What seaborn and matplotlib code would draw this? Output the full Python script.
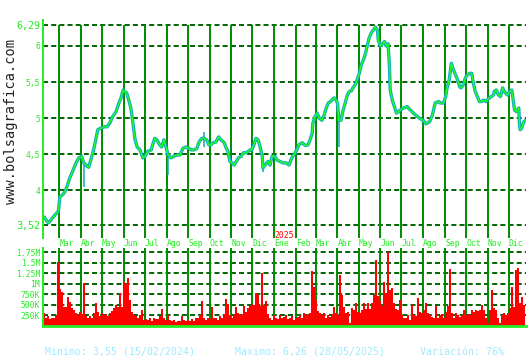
import numpy as np
import pandas as pd
import matplotlib
matplotlib.use("Agg")
import matplotlib.pyplot as plt
import matplotlib.transforms as mtransforms
import seaborn as sns

sns.set_theme(style="white")
plt.rcParams['font.family'] = ['DejaVu Sans Mono', 'DejaVu Sans']

# ---------------- data ----------------
start_date = "2024-02-08"
# days since start_date, closing price
price_day = [0, 1, 4, 7, 9, 11, 16, 20, 21, 23,
             27, 30, 33, 37, 41, 46, 50, 54, 57, 61,
             64, 67, 71, 74, 77, 81, 86, 90, 94, 98,
             103, 107, 110, 113, 115, 118, 121, 124, 127, 130,
             133, 137, 141, 144, 148, 153, 155, 158, 161, 165,
             168, 171, 174, 177, 181, 185, 190, 194, 198, 202,
             207, 210, 214, 218, 221, 225, 228, 232, 235, 238,
             241, 245, 249, 252, 257, 259, 262, 265, 268, 271,
             274, 277, 281, 284, 288, 291, 294, 296, 299, 302,
             305, 308, 311, 312, 315, 319, 322, 325, 329, 332,
             336, 341, 345, 349, 353, 358, 361, 363, 368, 371,
             373, 376, 379, 382, 383, 386, 389, 392, 396, 399,
             402, 405, 408, 410, 413, 416, 418, 420, 423, 426,
             429, 432, 435, 438, 440, 443, 446, 449, 452, 455,
             458, 460, 463, 466, 469, 472, 475, 476, 479, 482,
             485, 487, 490, 492, 493, 496, 499, 502, 505, 507,
             512, 517, 522, 526, 532, 536, 540, 544, 549, 553,
             557, 562, 564, 569, 572, 574, 577, 580, 583, 586,
             589, 592, 594, 597, 600, 603, 606, 609, 611, 614,
             617, 620, 623, 626, 629, 631, 634, 637, 640, 641,
             644, 647, 650, 653, 654, 657, 660, 663, 666, 668,
             670, 673, 676, 677, 678, 680, 683, 686]
price_close = [3.62, 3.63, 3.58, 3.55, 3.57, 3.60, 3.66, 3.70, 3.72, 3.91,
               3.94, 3.98, 4.05, 4.17, 4.26, 4.38, 4.45, 4.47, 4.38, 4.34,
               4.32, 4.42, 4.56, 4.70, 4.84, 4.86, 4.88, 4.88, 4.93, 5.02,
               5.09, 5.21, 5.28, 5.39, 5.37, 5.35, 5.25, 5.14, 4.93, 4.70,
               4.60, 4.56, 4.45, 4.47, 4.54, 4.56, 4.63, 4.72, 4.70, 4.63,
               4.60, 4.70, 4.60, 4.49, 4.45, 4.47, 4.49, 4.49, 4.58, 4.60,
               4.58, 4.56, 4.56, 4.58, 4.67, 4.72, 4.72, 4.70, 4.63, 4.63,
               4.66, 4.67, 4.74, 4.70, 4.66, 4.60, 4.54, 4.40, 4.38, 4.35,
               4.40, 4.45, 4.47, 4.52, 4.52, 4.54, 4.56, 4.56, 4.63, 4.72,
               4.70, 4.60, 4.47, 4.31, 4.35, 4.40, 4.35, 4.47, 4.47, 4.42,
               4.40, 4.38, 4.38, 4.35, 4.45, 4.52, 4.58, 4.63, 4.66, 4.63,
               4.62, 4.63, 4.70, 4.79, 4.93, 5.02, 5.07, 5.00, 4.97, 5.04,
               5.14, 5.21, 5.23, 5.25, 5.28, 5.25, 5.21, 4.97, 4.97, 5.11,
               5.21, 5.32, 5.37, 5.38, 5.42, 5.46, 5.53, 5.62, 5.74, 5.81,
               5.90, 5.99, 6.11, 6.18, 6.22, 6.26, 6.22, 6.08, 6.00, 6.03,
               6.06, 6.00, 6.03, 5.71, 5.39, 5.25, 5.16, 5.07, 5.09, 5.11,
               5.14, 5.16, 5.11, 5.07, 5.02, 4.99, 4.97, 4.92, 4.95, 5.04,
               5.21, 5.23, 5.21, 5.21, 5.30, 5.42, 5.53, 5.76, 5.67, 5.60,
               5.53, 5.43, 5.42, 5.46, 5.56, 5.60, 5.62, 5.62, 5.50, 5.37,
               5.30, 5.23, 5.23, 5.25, 5.23, 5.25, 5.28, 5.30, 5.32, 5.37,
               5.39, 5.32, 5.30, 5.42, 5.39, 5.35, 5.32, 5.37, 5.39, 5.25,
               5.11, 5.09, 5.14, 4.90, 4.84, 4.86, 4.95, 4.97]
# intraday spikes (day, low, high)
spike_day = [57, 177, 228, 312, 420]
spike_low = [4.05, 4.21, 4.60, 4.26, 4.60]
spike_high = [4.40, 4.50, 4.81, 4.47, 5.00]

# volume (thousands), evenly spaced from start to end
vol_end_date = "2025-12-23"
volume_k = [300, 200, 230, 170, 180, 200, 260, 1520, 870, 810,
            450, 460, 690, 575, 420, 380, 300, 260, 330, 280,
            1010, 230, 190, 230, 180, 300, 550, 340, 240, 300,
            250, 280, 230, 300, 350, 420, 500, 450, 780, 450,
            1050, 1000, 1130, 620, 340, 260, 230, 200, 260, 380,
            150, 170, 150, 200, 120, 180, 160, 160, 230, 400,
            200, 140, 250, 140, 120, 140, 100, 130, 110, 236,
            140, 120, 150, 120, 160, 130, 200, 180, 260, 600,
            180, 150, 200, 170, 450, 180, 200, 150, 230, 200,
            280, 640, 520, 250, 200, 280, 460, 300, 250, 280,
            470, 320, 420, 480, 520, 500, 780, 740, 480, 1250,
            500, 600, 280, 200, 150, 250, 200, 170, 250, 180,
            220, 250, 170, 200, 230, 150, 180, 220, 250, 200,
            300, 250, 280, 300, 1310, 920, 615, 350, 300, 250,
            300, 200, 260, 220, 280, 460, 300, 260, 1200, 740,
            450, 300, 320, 80, 430, 380, 550, 320, 300, 380,
            540, 400, 540, 400, 550, 730, 1560, 700, 600, 480,
            1050, 780, 1760, 850, 890, 550, 400, 380, 615, 260,
            200, 180, 250, 140, 500, 260, 240, 660, 320, 300,
            370, 540, 300, 260, 220, 180, 480, 200, 250, 280,
            200, 340, 480, 1350, 300, 200, 300, 250, 220, 260,
            380, 250, 280, 260, 380, 340, 380, 350, 380, 500,
            380, 200, 60, 380, 850, 420, 380, 200, 80, 260,
            300, 260, 300, 420, 930, 450, 1320, 1380, 550, 690,
            500]

month_labels = ["Mar", "Abr", "May", "Jun", "Jul", "Ago", "Sep", "Oct", "Nov", "Dic",
                "Ene", "Feb", "Mar", "Abr", "May", "Jun", "Jul", "Ago", "Sep", "Oct",
                "Nov", "Dic"]
year_label = "2025"
price_ticks = [3.52, 4, 4.5, 5, 5.5, 6, 6.29]
price_tick_labels = ["3,52", "4", "4,5", "5", "5,5", "6", "6,29"]
vol_ticks = [250, 500, 750, 1000, 1250, 1500, 1750]
vol_tick_labels = ["250K", "500K", "750K", "1M", "1.25M", "1.5M", "1.75M"]
footer = ["Minimo: 3,55 (15/02/2024)", "Maximo: 6,26 (28/05/2025)", "Variación: 76%"]
watermark = "www.bolsagrafica.com"

# ---------------- build ----------------
t0 = pd.Timestamp(start_date)
price_df = pd.DataFrame({"date": t0 + pd.to_timedelta(price_day, unit="D"),
                         "close": price_close})
spike_dates = t0 + pd.to_timedelta(spike_day, unit="D")
vol_dates = pd.date_range(t0, pd.Timestamp(vol_end_date), periods=len(volume_k))
bar_w = (vol_dates[1] - vol_dates[0]).total_seconds() / 86400.0
months = pd.date_range("2024-03-01", "2025-12-01", freq="MS")

BRIGHT = "#22ee22"
VLINE = "#008a00"
GRID = "#006400"
TEAL = "#10a8c0"
GREEN = "#20ff20"

W, H = 530, 360
fig = plt.figure(figsize=(W / 100, H / 100), dpi=100, facecolor="white")

def fx(px):
    return px / W

def fy(py):
    return 1 - py / H

xmin = pd.Timestamp("2024-02-07")
xmax = pd.Timestamp("2025-12-25 06:00")

# price axes: pixel rows 20..238, 6.29 at 25, 3.52 at 225
ax1 = fig.add_axes([fx(43), fy(238), fx(483), 218 / H])
ppu = 200 / (6.29 - 3.52)
y_top = 6.29 + 5 / ppu
y_bot = 3.52 - 13 / ppu
ax1.set_ylim(y_bot, y_top)
ax1.set_xlim(xmin, xmax)
ax1.set_facecolor("white")
for v in price_ticks:
    ax1.axhline(v, color=GRID, lw=1.4, dashes=(2.6, 1.6), zorder=1)
ax1.vlines(months, y_bot, 6.29, color=VLINE, lw=1.4, zorder=1)
ax1.vlines(spike_dates, spike_low, spike_high, color=TEAL, lw=1.1, zorder=2)
sns.lineplot(data=price_df, x="date", y="close", ax=ax1, color=TEAL, lw=2.4, zorder=3)
sns.lineplot(data=price_df, x="date", y="close", ax=ax1, color=GREEN, lw=1.0, zorder=4)
ax1.set_xlabel("")
ax1.set_ylabel("")
ax1.set_xticks([])
ax1.set_yticks(price_ticks)
ax1.set_yticklabels(price_tick_labels)
ax1.tick_params(axis="y", length=0, pad=2, colors=BRIGHT)
for lab in ax1.get_yticklabels():
    lab.set_fontsize(7.2 if lab.get_text() in ("6,29", "3,52") else 5.8)
    lab.set_color(BRIGHT)
for s in ["top", "right", "bottom"]:
    ax1.spines[s].set_visible(False)
ax1.spines["left"].set_color(BRIGHT)
ax1.spines["left"].set_linewidth(1.4)

# volume axes: pixel rows 248..326, 0 at 326, 1.75M at 252
ax2 = fig.add_axes([fx(43), fy(326), fx(483), 78 / H])
kpp = 1750 / 74
ax2.set_ylim(0, 78 * kpp)
ax2.set_xlim(xmin, xmax)
ax2.set_facecolor("white")
for v in vol_ticks:
    ax2.axhline(v, color=GRID, lw=1.4, dashes=(2.6, 1.6), zorder=1)
ax2.vlines(months, 0, 78 * kpp, color=VLINE, lw=1.4, zorder=1)
ax2.bar(vol_dates, volume_k, width=bar_w, color="#ff0000", edgecolor="none", zorder=2)
ax2.set_xticks([])
ax2.set_yticks(vol_ticks)
ax2.set_yticklabels(vol_tick_labels)
ax2.tick_params(axis="y", length=0, pad=2, colors=BRIGHT, labelsize=5.8)
for s in ["top", "right"]:
    ax2.spines[s].set_visible(False)
ax2.spines["left"].set_color(BRIGHT)
ax2.spines["left"].set_linewidth(1.4)
ax2.spines["bottom"].set_color(BRIGHT)
ax2.spines["bottom"].set_linewidth(2.0)
ax2.spines["bottom"].set_zorder(5)

# month labels
trans = mtransforms.blended_transform_factory(ax1.transData, fig.transFigure)
for d, lab in zip(months, month_labels):
    ax1.text(d, fy(244), lab, transform=trans, ha="left", va="center",
             fontsize=5.9, color=BRIGHT, clip_on=False)
ax1.text(pd.Timestamp("2025-01-01"), fy(236), year_label, transform=trans,
         ha="left", va="center", fontsize=5.9, color="#ff0000", clip_on=False)

# watermark (rotated, reads bottom to top)
fig.text(fx(11), fy(122), watermark, rotation=90, ha="center", va="center",
         fontsize=9.8, color="#222222")

# footer
for xpx, txt in zip([45, 235, 420], footer):
    fig.text(fx(xpx), fy(352), txt, ha="left", va="center", fontsize=7.1,
             color="#9fe9ff")

fig.savefig("out.png", dpi=100, facecolor="white")
